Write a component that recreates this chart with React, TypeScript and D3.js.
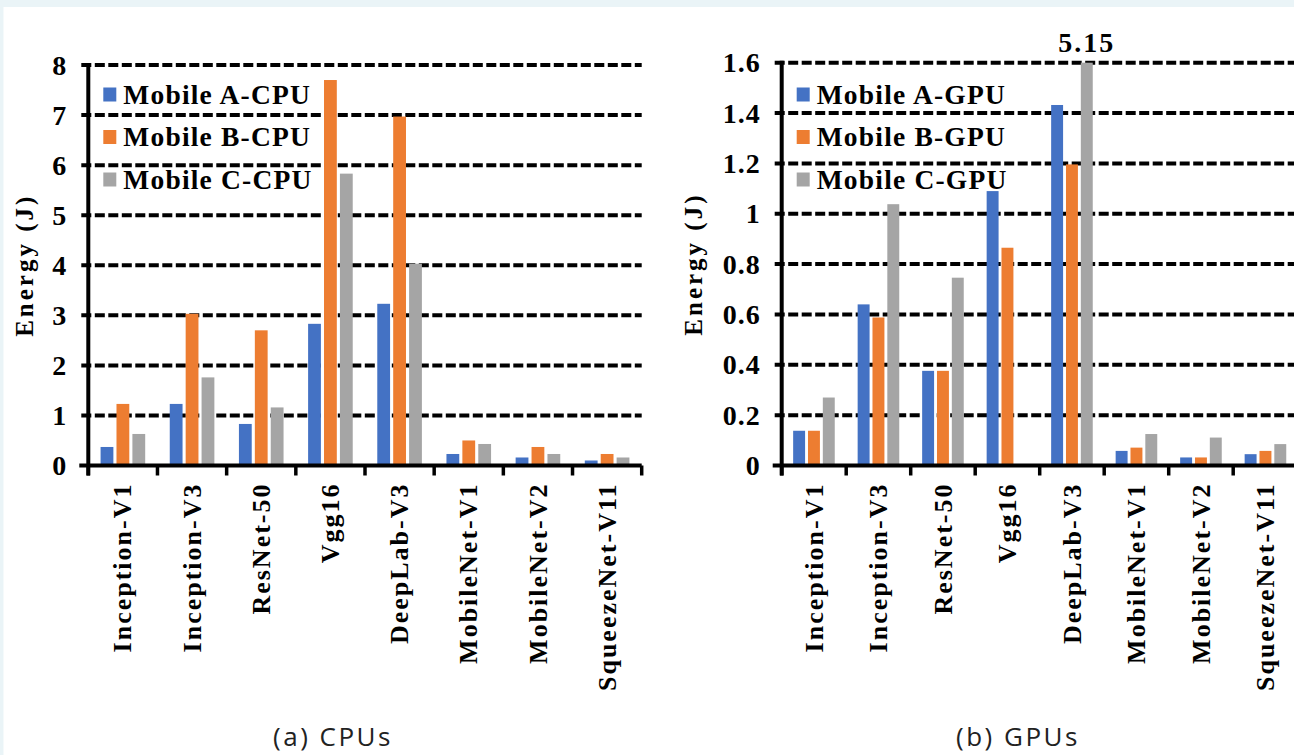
import React, { useEffect, useRef } from "react"
import * as d3 from "d3"

const models = [
  "Inception-V1",
  "Inception-V3",
  "ResNet-50",
  "Vgg16",
  "DeepLab-V3",
  "MobileNet-V1",
  "MobileNet-V2",
  "SqueezeNet-V11",
]

const cpuNames = ["Mobile A-CPU", "Mobile B-CPU", "Mobile C-CPU"]
const cpuA = [0.37, 1.23, 0.83, 2.83, 3.23, 0.23, 0.16, 0.1]
const cpuB = [1.23, 3.03, 2.7, 7.7, 6.97, 0.5, 0.37, 0.23]
const cpuC = [0.63, 1.76, 1.16, 5.83, 4.03, 0.43, 0.23, 0.16]
const cpuTicks = [0, 1, 2, 3, 4, 5, 6, 7, 8]

const gpuNames = ["Mobile A-GPU", "Mobile B-GPU", "Mobile C-GPU"]
const gpuA = [0.138, 0.64, 0.376, 1.09, 1.432, 0.058, 0.032, 0.045]
const gpuB = [0.138, 0.588, 0.376, 0.865, 1.196, 0.071, 0.032, 0.058]
const gpuC = [0.27, 1.038, 0.746, 0, 5.15, 0.125, 0.111, 0.085]
const gpuTicks = [0, 0.2, 0.4, 0.6, 0.8, 1, 1.2, 1.4, 1.6]

const colors = ["#4472C4", "#ED7D31", "#A5A5A5"]
const serif = "'Liberation Serif', 'Times New Roman', serif"

type Panel = {
  left: number
  right: number
  gridEnd: number
  top: number
  bottom: number
  ticks: number[]
  series: number[][]
  names: string[]
  caption: string
  captionX: number
  titleX: number
}

const boldText = (sel: any, size: number, spacing: number) =>
  sel
    .style("font-family", serif)
    .style("font-weight", "bold")
    .style("font-size", `${size}px`)
    .style("letter-spacing", `${spacing}px`)

const drawPanel = (svg: any, o: Panel) => {
  const g = svg.append("g")
  const x = d3.scaleBand<string>().domain(models).range([o.left, o.right])
  const yMax = d3.max(o.ticks) as number
  const y = d3.scaleLinear().domain([0, yMax]).range([o.bottom, o.top])
  const bw = x.bandwidth() * 0.185
  const gap = x.bandwidth() * 0.045
  const barX = (i: number, si: number) =>
    (x(models[i]) as number) + x.bandwidth() / 2 - 1.5 * bw - gap + si * (bw + gap)

  // dashed grid (also serves as y ticks)
  g.selectAll(".grid")
    .data(o.ticks.filter((t) => t > 0))
    .join("line")
    .attr("x1", o.left - 7)
    .attr("x2", o.gridEnd)
    .attr("y1", (d: number) => y(d))
    .attr("y2", (d: number) => y(d))
    .attr("stroke", "#000")
    .attr("stroke-width", 4)
    .attr("stroke-dasharray", "10 3.5")

  // bars
  o.series.forEach((vals, si) => {
    g.selectAll(`.bar${si}`)
      .data(vals)
      .join("rect")
      .attr("x", (_: number, i: number) => barX(i, si))
      .attr("y", (d: number) => y(Math.min(d, yMax)))
      .attr("width", bw)
      .attr("height", (d: number) => o.bottom - y(Math.min(d, yMax)))
      .attr("fill", colors[si])

    // value label for clipped bars
    vals.forEach((d, i) => {
      if (d > yMax) {
        boldText(
          g.append("text")
            .attr("x", barX(i, si) + bw / 2)
            .attr("y", o.top - 11)
            .attr("text-anchor", "middle"),
          28,
          2
        ).text(d3.format(".2f")(d))
      }
    })
  })

  // axes
  g.append("line")
    .attr("x1", o.left)
    .attr("x2", o.left)
    .attr("y1", o.top - 2)
    .attr("y2", o.bottom + 10)
    .attr("stroke", "#000")
    .attr("stroke-width", 4)
  g.append("line")
    .attr("x1", o.left - 9)
    .attr("x2", o.gridEnd)
    .attr("y1", o.bottom)
    .attr("y2", o.bottom)
    .attr("stroke", "#000")
    .attr("stroke-width", 4)

  const bounds = models.map((m) => x(m) as number).concat([o.right])
  g.selectAll(".xtick")
    .data(bounds)
    .join("line")
    .attr("x1", (d: number) => d)
    .attr("x2", (d: number) => d)
    .attr("y1", o.bottom)
    .attr("y2", o.bottom + 10)
    .attr("stroke", "#000")
    .attr("stroke-width", 3.5)

  // y tick labels
  boldText(
    g.selectAll(".ylab")
      .data(o.ticks)
      .join("text")
      .attr("x", o.left - 21)
      .attr("y", (d: number) => y(d))
      .attr("dy", "0.34em")
      .attr("text-anchor", "end"),
    28,
    1
  ).text((d: number) => d3.format("~g")(d))

  // category labels
  boldText(
    g.selectAll(".xlab")
      .data(models)
      .join("text")
      .attr("transform", (d: string) => `translate(${(x(d) as number) + x.bandwidth() / 2}, ${o.bottom + 17}) rotate(-90)`)
      .attr("text-anchor", "end")
      .attr("dy", "0.33em"),
    26,
    2
  ).text((d: string) => d)

  // y axis title
  boldText(
    g.append("text")
      .attr("transform", `translate(${o.titleX}, ${(o.top + o.bottom) / 2}) rotate(-90)`)
      .attr("text-anchor", "middle")
      .attr("dy", "0.33em"),
    25,
    3
  ).text("Energy (J)")

  // legend
  o.names.forEach((n, i) => {
    const cy = 94.5 + i * 42.5
    g.append("rect")
      .attr("x", o.left + 15)
      .attr("y", cy - 7)
      .attr("width", 13)
      .attr("height", 14)
      .attr("fill", colors[i])
    boldText(
      g.append("text")
        .attr("x", o.left + 35)
        .attr("y", cy)
        .attr("dy", "0.34em"),
      27.5,
      1.2
    ).text(n)
  })

  // caption
  g.append("text")
    .attr("x", o.captionX)
    .attr("y", 746)
    .attr("text-anchor", "middle")
    .style("font-family", "'Open Sans', 'Noto Sans', sans-serif")
    .style("font-size", "26px")
    .style("letter-spacing", "2.5px")
    .style("fill", "#222")
    .text(o.caption)
}

const App = () => {
  const ref = useRef<SVGSVGElement>(null)

  useEffect(() => {
    const svg = d3.select(ref.current)
    svg.selectAll("*").remove()

    svg.append("rect").attr("width", 1294).attr("height", 755).attr("fill", "#eaf4f7")
    svg.append("rect").attr("x", 3.5).attr("y", 7).attr("width", 1294).attr("height", 755).attr("fill", "#fff")

    drawPanel(svg, {
      left: 88.3,
      right: 641.7,
      gridEnd: 641.7,
      top: 65,
      bottom: 465.5,
      ticks: cpuTicks,
      series: [cpuA, cpuB, cpuC],
      names: cpuNames,
      caption: "(a) CPUs",
      captionX: 333,
      titleX: 25,
    })

    drawPanel(svg, {
      left: 781.7,
      right: 781.7 + 8 * 64.5,
      gridEnd: 1294,
      top: 62.7,
      bottom: 465.5,
      ticks: gpuTicks,
      series: [gpuA, gpuB, gpuC],
      names: gpuNames,
      caption: "(b) GPUs",
      captionX: 1018,
      titleX: 694,
    })
  }, [])

  return (
    <svg
      ref={ref}
      width={1294}
      height={755}
      style={{ position: "absolute", left: 0, top: 0, display: "block" }}
    />
  )
}

export default App
